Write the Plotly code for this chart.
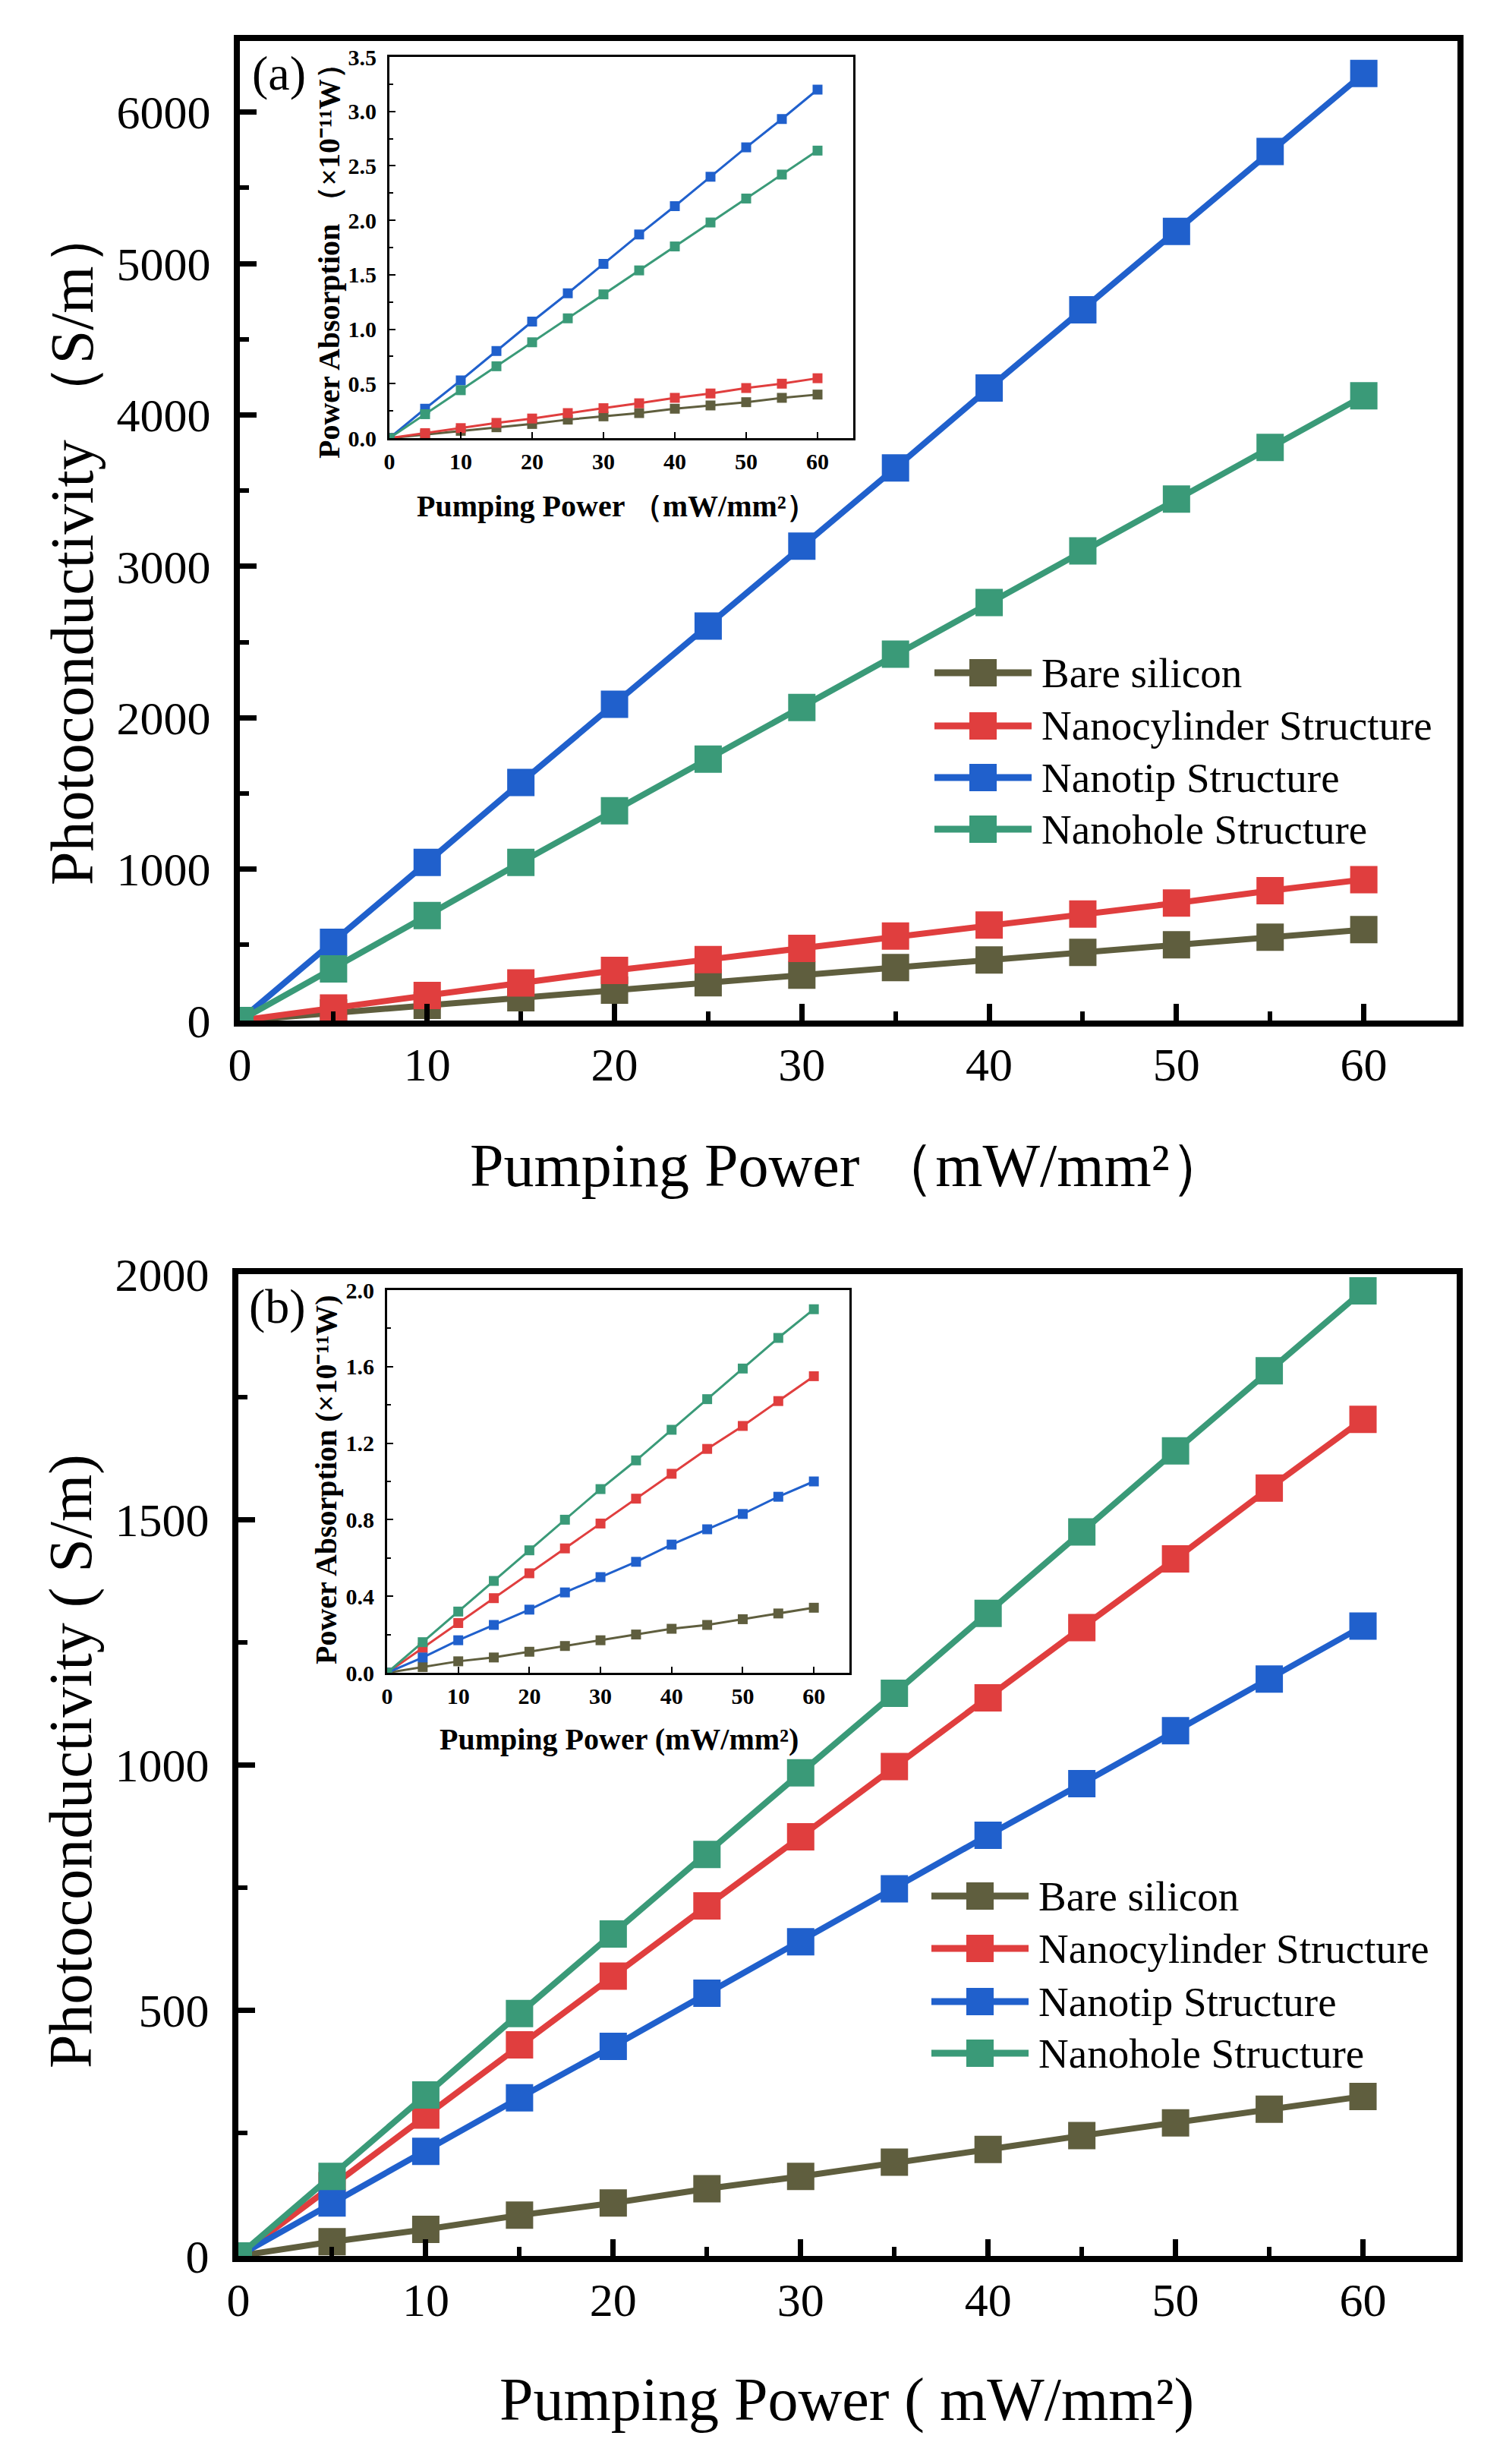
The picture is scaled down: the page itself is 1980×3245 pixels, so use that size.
import plotly.graph_objects as go

W, H = 1980, 3245

# ---------------- data ----------------
pump = [0, 5, 10, 15, 20, 25, 30, 35, 40, 45, 50, 55, 60]
names = ["Bare silicon", "Nanocylinder Structure", "Nanotip Structure", "Nanohole Structure"]
colors = ["#5f5e3e", "#e03e3e", "#2060cc", "#3a9a78"]

# panel (a) photoconductivity (S/m)
a_bare = [0, 50, 100, 150, 200, 250, 300, 350, 400, 450, 500, 550, 600]
a_cyl = [0, 83, 165, 248, 331, 403, 476, 558, 631, 703, 776, 858, 931]
a_tip = [0, 517, 1045, 1572, 2089, 2606, 3133, 3650, 4178, 4695, 5212, 5740, 6256]
a_hole = [0, 341, 693, 1044, 1386, 1727, 2068, 2420, 2761, 3102, 3444, 3785, 4126]

# panel (a) inset power absorption (x1e-11 W)
ai_bare = [0, 0.033, 0.067, 0.10, 0.13, 0.17, 0.20, 0.23, 0.27, 0.30, 0.33, 0.37, 0.40]
ai_cyl = [0, 0.046, 0.092, 0.14, 0.18, 0.23, 0.275, 0.32, 0.37, 0.41, 0.46, 0.50, 0.55]
ai_tip = [0, 0.27, 0.53, 0.80, 1.07, 1.33, 1.60, 1.87, 2.13, 2.40, 2.67, 2.93, 3.20]
ai_hole = [0, 0.22, 0.44, 0.66, 0.88, 1.10, 1.32, 1.54, 1.76, 1.98, 2.20, 2.42, 2.64]

# panel (b) photoconductivity (S/m)
b_bare = [0, 29, 54, 83, 108, 137, 162, 191, 217, 245, 271, 299, 325]
b_cyl = [0, 143, 287, 430, 570, 713, 854, 997, 1137, 1280, 1420, 1564, 1704]
b_tip = [0, 108, 213, 322, 427, 535, 640, 748, 857, 962, 1070, 1175, 1283]
b_hole = [0, 162, 328, 494, 656, 818, 984, 1146, 1309, 1475, 1640, 1803, 1966]

# panel (b) inset power absorption (x1e-11 W)
bi_bare = [0, 0.03, 0.06, 0.08, 0.11, 0.14, 0.17, 0.20, 0.23, 0.25, 0.28, 0.31, 0.34]
bi_cyl = [0, 0.13, 0.26, 0.39, 0.52, 0.65, 0.78, 0.91, 1.04, 1.17, 1.29, 1.42, 1.55]
bi_tip = [0, 0.08, 0.17, 0.25, 0.33, 0.42, 0.50, 0.58, 0.67, 0.75, 0.83, 0.92, 1.00]
bi_hole = [0, 0.16, 0.32, 0.48, 0.64, 0.80, 0.96, 1.11, 1.27, 1.43, 1.59, 1.75, 1.90]

a_tick_vals = [0, 1000, 2000, 3000, 4000, 5000, 6000]
b_tick_vals = [0, 500, 1000, 1500, 2000]
x_tick_vals = [0, 10, 20, 30, 40, 50, 60]

# ---------------- helpers ----------------
def px(x):
    return x / W

def py(y):
    return 1 - y / H

SERIF = "Liberation Serif"

fig = go.Figure()

panels = [
    ("x", "y", [a_bare, a_cyl, a_tip, a_hole], 8, 36),
    ("x2", "y2", [ai_bare, ai_cyl, ai_tip, ai_hole], 3, 13),
    ("x3", "y3", [b_bare, b_cyl, b_tip, b_hole], 8, 36),
    ("x4", "y4", [bi_bare, bi_cyl, bi_tip, bi_hole], 3, 13),
]
for xa, ya, series, lw, ms in panels:
    for name, col, vals in zip(names, colors, series):
        fig.add_trace(go.Scatter(
            x=pump, y=vals, xaxis=xa, yaxis=ya, name=name, mode="lines+markers",
            line=dict(color=col, width=lw),
            marker=dict(symbol="square", size=ms, color=col),
            showlegend=False))

main_common = dict(
    showline=True, linecolor="black", linewidth=8, mirror=True,
    ticks="inside", ticklen=22, tickwidth=7, tickcolor="black",
    showgrid=False, zeroline=False, automargin=False,
    tickfont=dict(family=SERIF, size=62, color="black"),
)
main_minor = dict(ticklen=12, tickwidth=6, ticks="inside", tickcolor="black")
inset_common = dict(
    showline=True, linecolor="black", linewidth=3, mirror=True,
    ticks="inside", ticklen=8, tickwidth=2, tickcolor="black",
    showgrid=False, zeroline=False, automargin=False,
    tickfont=dict(family=SERIF, size=30, color="black", weight="bold"),
)
inset_minor = dict(ticklen=5, tickwidth=2, ticks="inside", tickcolor="black")

# frame line centres measured in pixels
A_L, A_R, A_T, A_B = 312, 1924, 50, 1348
B_L, B_R, B_T, B_B = 310, 1923, 1674, 2975
h = 4  # half of main frame line width

fig.update_layout(
    width=W, height=H, margin=dict(l=0, r=0, t=0, b=0, autoexpand=False),
    paper_bgcolor="white", plot_bgcolor="white", showlegend=False,
    # panel (a)
    xaxis=dict(domain=[px(A_L + h), px(A_R - h)], anchor="y", range=[0, 65],
               tickvals=x_tick_vals, minor=dict(dtick=5, tick0=0, **main_minor),
               ticklabelstandoff=-3, **main_common),
    yaxis=dict(domain=[py(A_B - h), py(A_T + h)], anchor="x", range=[0, 6470],
               tickvals=a_tick_vals, minor=dict(dtick=500, tick0=0, **main_minor),
               ticklabelstandoff=18, **main_common),
    # inset (a)
    xaxis2=dict(domain=[px(513), px(1124)], anchor="y2", range=[0, 65],
                tickvals=x_tick_vals, ticklabelstandoff=2, **inset_common),
    yaxis2=dict(domain=[py(577), py(75)], anchor="x2", range=[0, 3.5],
                dtick=0.5, tick0=0, tickformat=".1f",
                minor=dict(dtick=0.25, **inset_minor), ticklabelstandoff=8,
                **inset_common),
    # panel (b)
    xaxis3=dict(domain=[px(B_L + h), px(B_R - h)], anchor="y3", range=[0, 65],
                tickvals=x_tick_vals, minor=dict(dtick=5, tick0=0, **main_minor),
                ticklabelstandoff=-3, **main_common),
    yaxis3=dict(domain=[py(B_B - h), py(B_T + h)], anchor="x3", range=[0, 2000],
                tickvals=b_tick_vals, minor=dict(dtick=250, tick0=0, **main_minor),
                ticklabelstandoff=18, **main_common),
    # inset (b)
    xaxis4=dict(domain=[px(510), px(1119)], anchor="y4", range=[0, 65],
                tickvals=x_tick_vals, ticklabelstandoff=2, **inset_common),
    yaxis4=dict(domain=[py(2203), py(1699)], anchor="x4", range=[0, 2.0],
                dtick=0.4, tick0=0, tickformat=".1f",
                minor=dict(dtick=0.2, **inset_minor), ticklabelstandoff=8,
                **inset_common),
)

ann = []

def text(x, y, s, size, angle=0, bold=False, xanchor="center"):
    f = dict(family=SERIF, size=size, color="black")
    if bold:
        s = "<b>" + s + "</b>"
    ann.append(dict(
        xref="paper", yref="paper", x=px(x), y=py(y), text=s, showarrow=False,
        textangle=angle, xanchor=xanchor, yanchor="middle", font=f))

# main titles
text(95, 718, "Photoconductivity \uff08S/m\uff09", 80, angle=-90)
text(1120, 1535, "Pumping Power \uff08mW/mm\u00b2\uff09", 80)
text(93, 2320, "Photoconductivity ( S/m)", 80, angle=-90)
text(1115, 3160, "Pumping Power ( mW/mm\u00b2)", 80)
# inset titles
text(433, 334, "Power Absorption \uff08\u00d710\u207b\u00b9\u00b9W\uff09", 40, angle=-90, bold=True)
text(812, 666, "Pumping Power \uff08mW/mm\u00b2\uff09", 40, bold=True)
text(430, 1949, "Power Absorption (\u00d710\u207b\u00b9\u00b9W)", 40, angle=-90, bold=True)
text(815, 2290, "Pumping Power (mW/mm\u00b2)", 40, bold=True)
# panel labels
text(330, 96, "(a)", 64, xanchor="left")
text(326, 1720, "(b)", 64, xanchor="left")

# manual legends
shapes = []
def legend(x_line0, x_line1, x_text, ys):
    xc = (x_line0 + x_line1) / 2
    for name, col, yy in zip(names, colors, ys):
        shapes.append(dict(type="line", xref="paper", yref="paper",
                           x0=px(x_line0), x1=px(x_line1), y0=py(yy), y1=py(yy),
                           line=dict(color=col, width=9)))
        shapes.append(dict(type="rect", xref="paper", yref="paper",
                           x0=px(xc - 18), x1=px(xc + 18), y0=py(yy + 18), y1=py(yy - 18),
                           line=dict(width=0), fillcolor=col))
        text(x_text, yy, name, 55, xanchor="left")

legend(1231, 1359, 1370, [886, 956, 1024, 1092])
legend(1227, 1355, 1366, [2497, 2566, 2636, 2704])

fig.update_layout(annotations=ann, shapes=shapes)
fig.write_html("out.html", config={"displayModeBar": False},
               post_script="document.body.style.margin='0px';document.body.style.padding='0px';")
